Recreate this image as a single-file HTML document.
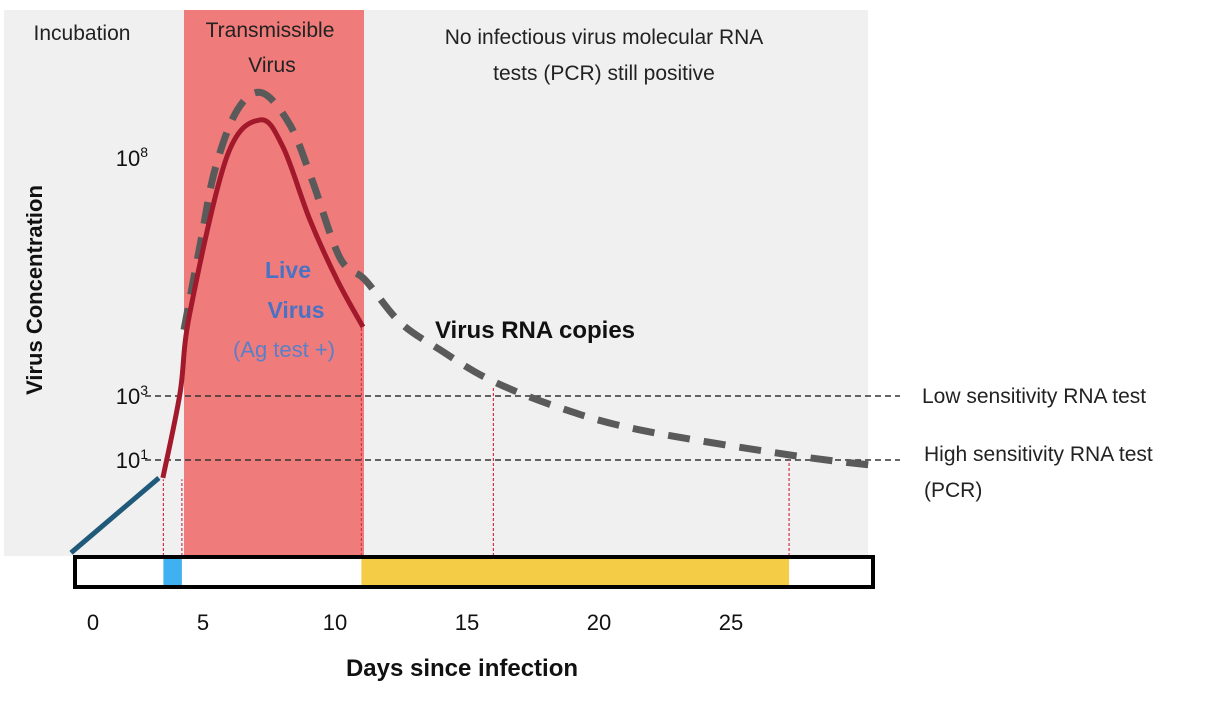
<!DOCTYPE html>
<html><head><meta charset="utf-8"><style>
body{margin:0;background:#fff;}
svg{display:block;font-family:"Liberation Sans",sans-serif;}
</style></head><body>
<svg id="chart" width="1216" height="706" viewBox="0 0 1216 706" xmlns="http://www.w3.org/2000/svg">
<rect x="4" y="10" width="864" height="546" fill="#f0f0f0"/>
<rect x="184" y="10" width="180" height="546" fill="#ef7c7a"/>
<text x="82" y="40" font-size="21" text-anchor="middle" fill="#222">Incubation</text>
<text x="270" y="37" font-size="21" text-anchor="middle" fill="#222">Transmissible</text>
<text x="272" y="72" font-size="21" text-anchor="middle" fill="#222">Virus</text>
<text x="604" y="44" font-size="21" text-anchor="middle" fill="#222">No infectious virus molecular RNA</text>
<text x="604" y="80" font-size="21" text-anchor="middle" fill="#222">tests (PCR) still positive</text>
<g id="lines"></g>
<text x="288" y="278" font-size="23" font-weight="bold" text-anchor="middle" fill="#4a72c4">Live</text>
<text x="296" y="318" font-size="23" font-weight="bold" text-anchor="middle" fill="#4a72c4">Virus</text>
<text x="284" y="357" font-size="22" text-anchor="middle" fill="#5a7fc9">(Ag test +)</text>
<text x="535" y="338" font-size="24" font-weight="bold" text-anchor="middle" fill="#111">Virus RNA copies</text>
<text x="922" y="403" font-size="21" fill="#222">Low sensitivity RNA test</text>
<text x="924" y="461" font-size="21" fill="#222">High sensitivity RNA test</text>
<text x="924" y="497" font-size="21" fill="#222">(PCR)</text>
<text transform="translate(42,290) rotate(-90)" font-size="22" font-weight="bold" text-anchor="middle" fill="#111">Virus Concentration</text>
<text x="462" y="676" font-size="24" font-weight="bold" text-anchor="middle" fill="#111">Days since infection</text>
</svg>
<script>
const xTicks=[0,5,10,15,20,25];
const yTicks=[1,3,8];
const yTickLabels=["1","3","8"];
const thresholds=[3,1];
const incubationDays=[0,3.33];
const incubationLog=[-1.9,0.44];
const liveDays=[3.48,4.13,4.5,5.9,7.16,8.03,9.05,10.08,11.06];
const liveLog=[0.44,3.06,4.74,8.02,8.8,8.23,6.7,5.44,4.45];
const rnaDays=[4.28,4.89,5.45,6.29,7.23,8.3,9.13,10.19,11.14,12.46,13.98,15.87,18.52,21.55,27.2,30.3];
const rnaLog=[4.39,6.17,7.75,9.0,9.37,8.69,7.54,5.9,5.44,4.55,3.97,3.34,2.63,1.94,1.16,0.84];
const markerDays=[3.5,4.2,11.0,16.0,27.2];
const agDays=[3.5,4.2];
const pcrDays=[11.0,27.2];

const NS="http://www.w3.org/2000/svg";
const svg=document.getElementById('chart');
const g=document.getElementById('lines');
function X(d){return 71+26.4*d;}
function Y(v){ if(v<=3) return 460-(v-1)*32; return 396-(v-3)*47.6; }
function mk(tag,attrs,parent){const e=document.createElementNS(NS,tag);for(const k in attrs)e.setAttribute(k,attrs[k]);(parent||g).appendChild(e);return e;}
function smooth(xs,ys){let p=xs.map((x,i)=>[X(x),Y(ys[i])]);let d='M'+p[0][0]+','+p[0][1];
 for(let i=0;i<p.length-1;i++){const p0=p[i-1]||p[i],p1=p[i],p2=p[i+1],p3=p[i+2]||p2;
 d+=' C'+(p1[0]+(p2[0]-p0[0])/6)+','+(p1[1]+(p2[1]-p0[1])/6)+' '+(p2[0]-(p3[0]-p1[0])/6)+','+(p2[1]-(p3[1]-p1[1])/6)+' '+p2[0]+','+p2[1];}return d;}

thresholds.forEach(v=>{const l=mk('line',{x1:145,x2:900,y1:Y(v),y2:Y(v),stroke:'#333','stroke-width':1.5,'stroke-dasharray':'6 4'});

});
const markerTop=[0.4,0.4,4.5,3.2,1];
markerDays.forEach((d,i)=>{const l=mk('line',{x1:X(d),x2:X(d),y1:556,y2:Y(markerTop[i]),stroke:'#d6314a','stroke-width':1.2,'stroke-dasharray':'3 2'});

});
let r=mk('path',{d:smooth(rnaDays,rnaLog),fill:'none',stroke:'#5a5a5a','stroke-width':7,'stroke-dasharray':'22 14'});


let inc=mk('path',{d:'M'+X(incubationDays[0])+','+Y(incubationLog[0])+' L'+X(incubationDays[1])+','+Y(incubationLog[1]),fill:'none',stroke:'#1f5a7a','stroke-width':5});


let lv=mk('path',{d:smooth(liveDays,liveLog),fill:'none',stroke:'#a3192c','stroke-width':5});


yTicks.forEach((v,i)=>{const t=mk('text',{x:148,y:Y(v)+8,'font-size':22,'text-anchor':'end',fill:'#111'});


t.textContent='10';const s=mk('tspan',{dy:-9,'font-size':14},t);s.textContent=yTickLabels[i];});
const bar=mk('rect',{x:75,y:557,width:798,height:30,fill:'#fff'});


const ag=mk('rect',{x:X(agDays[0]),y:557,width:X(agDays[1])-X(agDays[0]),height:30,fill:'#3fb0f0'});


const pc=mk('rect',{x:X(pcrDays[0]),y:557,width:X(pcrDays[1])-X(pcrDays[0]),height:30,fill:'#f5cc45'});


const bo=mk('rect',{x:75,y:557,width:798,height:30,fill:'none',stroke:'#000','stroke-width':4});


xTicks.forEach(d=>{const t=mk('text',{x:X(d)+(d==0?22:0),y:630,'font-size':22,'text-anchor':'middle',fill:'#111'});


t.textContent=d;});
</script>
</body></html>
